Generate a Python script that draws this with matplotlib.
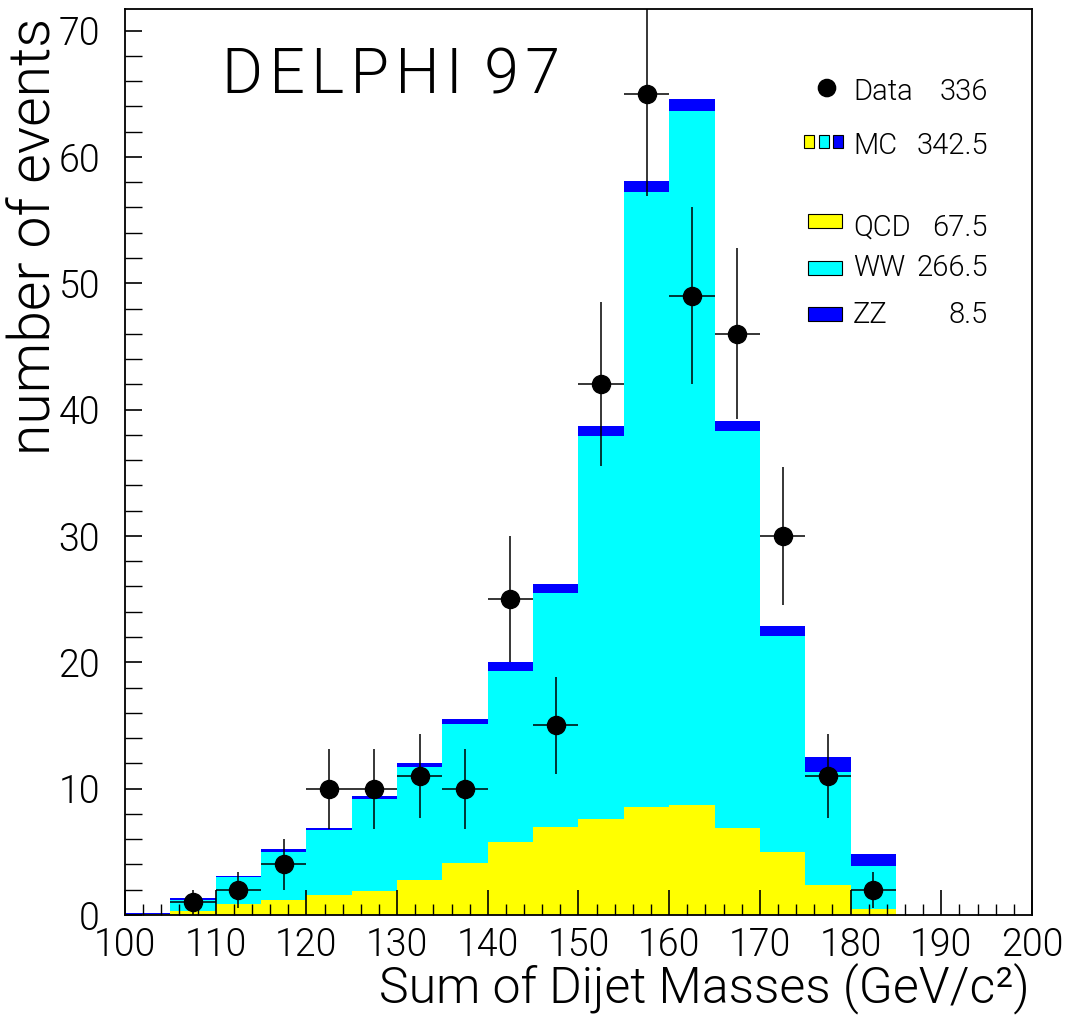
import numpy as np
import matplotlib.pyplot as plt
from matplotlib import font_manager
from matplotlib.font_manager import FontProperties
from matplotlib.patches import Rectangle, Circle

# bin edges of the dijet mass sum (GeV/c^2)
edges = np.arange(100, 190, 5)
centres = edges[:-1] + 2.5

# expected events per bin, stacked QCD -> WW -> ZZ
qcd = [0.05, 0.32, 0.9, 1.19, 1.58, 1.9, 2.8, 4.1, 5.79, 7.0, 7.6, 8.56, 8.7, 6.9, 5.0, 2.4, 0.5]
ww = [0.07, 0.87, 2.08, 3.81, 5.14, 7.3, 8.93, 11.04, 13.51, 18.5, 30.3, 48.64, 54.9, 31.4, 17.1, 8.9, 3.4]
zz = [0.06, 0.13, 0.12, 0.22, 0.18, 0.24, 0.27, 0.4, 0.7, 0.7, 0.8, 0.87, 1.0, 0.8, 0.8, 1.2, 0.9]

# observed events
data_x = centres[1:]
data_n = [1, 2, 4, 10, 10, 11, 10, 25, 15, 42, 65, 49, 46, 30, 11, 2]

legend_rows = [("Data", "336"), ("MC", "342.5"), ("QCD", "67.5"), ("WW", "266.5"), ("ZZ", "8.5")]


# pick a thin sans face if one is installed
def thin_font():
    best = None
    for fam in ['Roboto', 'Lato', 'Open Sans', 'Inter', 'Noto Sans', 'DejaVu Sans']:
        for f in font_manager.fontManager.ttflist:
            if f.name != fam or f.style != 'normal':
                continue
            wt = f.weight
            if isinstance(wt, str):
                wt = font_manager.weight_dict.get(wt, 400)
            if wt <= 300:
                score = abs(wt - 300)
                if best is None or score < best[0]:
                    best = (score, f.fname)
        if best is not None:
            return FontProperties(fname=best[1])
    return FontProperties(family='DejaVu Sans')


fp = thin_font()


def font(size):
    p = fp.copy()
    p.set_size(size)
    return p


fig = plt.figure(figsize=(10.7, 10.15), dpi=100)
ax = fig.add_axes([0.1168, 0.0985, 0.8477, 0.8926])

qcd = np.array(qcd)
ww = np.array(ww)
zz = np.array(zz)
w = 5
ax.bar(edges[:-1], qcd, width=w, align='edge', color='#ffff00', linewidth=0)
ax.bar(edges[:-1], ww, width=w, bottom=qcd, align='edge', color='#00ffff', linewidth=0)
ax.bar(edges[:-1], zz, width=w, bottom=qcd + ww, align='edge', color='#0000ff', linewidth=0)

data_n = np.array(data_n)
ax.errorbar(data_x, data_n, yerr=np.sqrt(data_n), xerr=2.5, fmt='o', color='black',
            markersize=13, elinewidth=1.1, capsize=0, zorder=5)

ax.set_xlim(100, 200)
ax.set_ylim(0, 71.7)
ax.set_xticks(np.arange(100, 201, 10))
ax.set_xticks(np.arange(100, 201, 2), minor=True)
ax.set_yticks(np.arange(0, 71, 10))
ax.set_yticks(np.arange(0, 71, 2), minor=True)
ax.tick_params(which='both', direction='in', top=False, right=False, colors='black')
ax.tick_params(which='major', length=18, width=1.2)
ax.tick_params(which='minor', length=8, width=1.0)
ax.tick_params(axis='y', which='both', length=12, pad=18)
ax.tick_params(axis='x', pad=8)
for lbl in ax.get_xticklabels() + ax.get_yticklabels():
    lbl.set_fontproperties(font(27))
for s in ax.spines.values():
    s.set_linewidth(1.3)
ax.set_axisbelow(False)

fig.text(1030 / 1070, 1 - 1002 / 1015, "Sum of Dijet Masses (GeV/c\u00b2)", fontproperties=font(36),
         ha='right', va='baseline')
fig.text(35 / 1070, 1 - 18 / 1015, "number of events", fontproperties=font(41),
         rotation=90, ha='center', va='top')


# legend drawn by hand in axes fraction
def fx(px):
    return (px - 125) / 907.0


def fy(py):
    return (915 - py) / 906.0


ax.text(fx(222), fy(76), "D\u200aE\u200aL\u200aP\u200aH\u200aI \u200a9\u200a7", transform=ax.transAxes,
        fontproperties=font(45), va='center', ha='left')

tx = fx(853)
nx = fx(988)
rows_y = [92, 146, 228, 268, 315]
for (name, val), py in zip(legend_rows, rows_y):
    ax.text(tx, fy(py), name, transform=ax.transAxes, fontproperties=font(21), va='center', ha='left')
    ax.text(nx, fy(py), val, transform=ax.transAxes, fontproperties=font(21), va='center', ha='right')

ax.add_patch(Circle((fx(827), fy(88)), 0.0095, transform=ax.transAxes, color='black'))
for x0, c in zip([804, 818.5, 832.5], ['#ffff00', '#00ffff', '#0000ff']):
    ax.add_patch(Rectangle((fx(x0), fy(148)), 10 / 907, 13 / 906, transform=ax.transAxes,
                           facecolor=c, edgecolor='black', linewidth=0.8))
for py, c in zip([228, 275, 321], ['#ffff00', '#00ffff', '#0000ff']):
    ax.add_patch(Rectangle((fx(808), fy(py)), 34 / 907, 14 / 906, transform=ax.transAxes,
                           facecolor=c, edgecolor='black', linewidth=0.8))

fig.savefig("out.png", dpi=100)
